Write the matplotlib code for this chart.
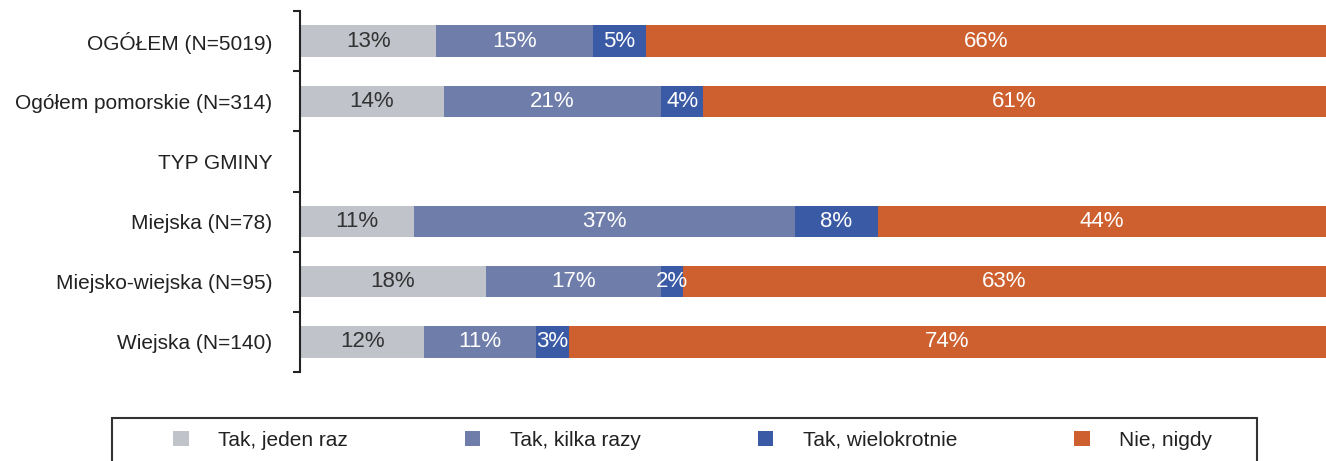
import numpy as np
import matplotlib.pyplot as plt
from matplotlib.patches import Patch, Rectangle

plt.rcParams['font.family'] = ['Liberation Sans', 'DejaVu Sans']

categories = [
    "OGÓŁEM (N=5019)",
    "Ogółem pomorskie (N=314)",
    "TYP GMINY",
    "Miejska (N=78)",
    "Miejsko-wiejska (N=95)",
    "Wiejska (N=140)",
]
series = ["Tak, jeden raz", "Tak, kilka razy", "Tak, wielokrotnie", "Nie, nigdy"]

# shares in % (TYP GMINY is only a heading row)
jeden_raz = [13.3, 14.0, np.nan, 11.1, 18.1, 12.1]
kilka_razy = [15.3, 21.2, np.nan, 37.1, 17.1, 10.9]
wielokrotnie = [5.1, 4.1, np.nan, 8.1, 2.1, 3.2]
nigdy = [66.4, 60.7, np.nan, 43.7, 62.7, 73.8]

colors = ["#C0C3CA", "#6F7DAA", "#3A5AA6", "#CD602E"]
text_colors = ["#333333", "white", "white", "white"]

W, H = 1326, 461
fig = plt.figure(figsize=(W / 100, H / 100), dpi=100)
ax = fig.add_axes([300 / W, 1 - 372 / H, 1 - 300 / W, (372 - 11) / H])

y = np.arange(len(categories))
left = np.zeros(len(categories))
for vals, col, tc, name in zip([jeden_raz, kilka_razy, wielokrotnie, nigdy],
                               colors, text_colors, series):
    v = np.array(vals, dtype=float)
    m = ~np.isnan(v)
    bars = ax.barh(y[m], v[m], left=left[m], height=0.52, color=col, label=name)
    for b, val in zip(bars, v[m]):
        ax.text(b.get_x() + b.get_width() / 2, b.get_y() + b.get_height() / 2,
                f"{round(val)}%", ha="center", va="center", color=tc, fontsize=16)
    left[m] += v[m]

ax.set_xlim(0, 100)
ax.set_ylim(len(categories) - 0.5, -0.5)
for s in ["top", "right", "bottom"]:
    ax.spines[s].set_visible(False)
ax.spines["left"].set_linewidth(1.5)
ax.spines["left"].set_color("#222222")
ax.set_xticks([])
ax.set_yticks(y, categories)
ax.tick_params(axis="y", which="major", length=0, pad=20, labelsize=15, labelcolor="#222222")
ax.set_yticks(np.arange(-0.5, len(categories), 1), minor=True)
ax.tick_params(axis="y", which="minor", length=5, width=1.5, color="#222222", direction="out")

handles = [Patch(facecolor=c, edgecolor="none", label=s) for c, s in zip(colors, series)]
fig.legend(handles=handles, loc="center", ncol=4, mode="expand",
           bbox_to_anchor=(173 / W, 1 - 450 / H, (1212 - 173) / W, 20 / H),
           frameon=False, borderpad=0, borderaxespad=0,
           handlelength=0.75, handleheight=0.75, handletextpad=1.4,
           fontsize=15, labelcolor="#222222")
fig.add_artist(Rectangle((112 / W, -0.05), (1257 - 112) / W, 1 - 418 / H + 0.05,
                         transform=fig.transFigure, fill=False,
                         edgecolor="#333333", linewidth=1.5))

fig.savefig("out.png", dpi=100)
